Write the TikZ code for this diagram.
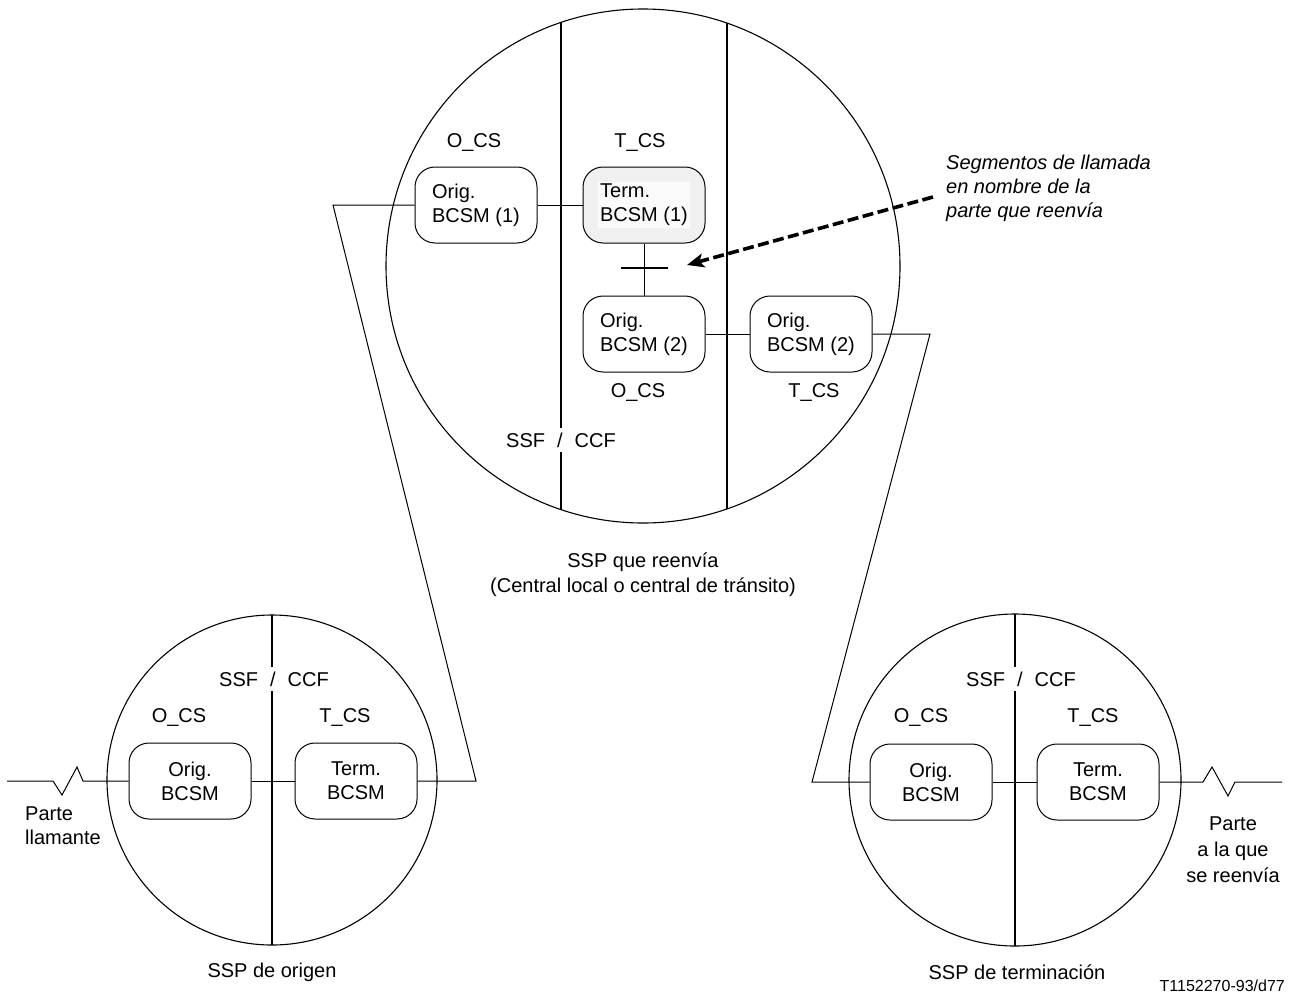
\documentclass[tikz,border=0pt]{standalone}
\usepackage{fontspec}
\setmainfont{Liberation Sans}
\usetikzlibrary{arrows.meta}
\begin{document}
\begin{tikzpicture}[x=1pt,y=-1pt,
  every node/.style={font=\fontsize{20}{24}\selectfont},
  bcsm/.style={draw, line width=1pt, rounded corners=20pt, minimum width=122pt, minimum height=76pt, inner sep=0pt, align=center},
  circ/.style={line width=1.1pt},
  divline/.style={line width=2pt},
  wire/.style={line width=1pt},
  lbl/.style={inner sep=1pt},
  gaplbl/.style={fill=white, inner sep=5pt},
  note/.style={font=\fontsize{20}{24}\selectfont\itshape, align=left, inner sep=0pt}
]
\useasboundingbox (0,0) rectangle (1292,1001);

% circles
\draw[circ] (643,266) circle (257pt);
\draw[circ] (272,780) circle (165pt);
\draw[circ] (1015,780) circle (166pt);

% dividers
\coordinate (d1a) at (561,22.4);  \coordinate (d1b) at (561,509.6);
\coordinate (d2a) at (727,23.1);  \coordinate (d2b) at (727,508.9);
\coordinate (d3a) at (272,615);   \coordinate (d3b) at (272,945);
\coordinate (d4a) at (1015,614);  \coordinate (d4b) at (1015,946);
\draw[divline] (d1a) -- (d1b);
\draw[divline] (d2a) -- (d2b);
\draw[divline] (d3a) -- (d3b);
\draw[divline] (d4a) -- (d4b);

% boxes top
\node[bcsm, align=left] (o1) at (476,205) {Orig.\\BCSM (1)};
\node[bcsm, fill=gray!12] (t1) at (644,205) {};
\node[fill=gray!4, inner sep=2pt, align=left] (t1txt) at (t1) {Term.\\BCSM (1)};
\node[bcsm, align=left] (o2) at (644,334) {Orig.\\BCSM (2)};
\node[bcsm, align=left] (o2r) at (811,334) {Orig.\\BCSM (2)};

% boxes bottom
\node[bcsm] (bo) at (190,781) {Orig.\\BCSM};
\node[bcsm] (bt) at (356,781) {Term.\\BCSM};
\node[bcsm] (ro) at (931,782) {Orig.\\BCSM};
\node[bcsm] (rt) at (1098,782) {Term.\\BCSM};

% top connectors
\draw[wire] (o1) -- (t1);
\draw[wire] (t1) -- (o2);
\coordinate (xl) at (621,268); \coordinate (xr) at (668,268);
\draw[line width=1.3pt] (xl) -- (xr);
\draw[wire] (o2) -- (o2r);

% funnels
\coordinate (fl1) at (333,205); \coordinate (fl2) at (476,781);
\draw[wire] (o1.west) -- (fl1) -- (fl2) -- (bt.east);
\coordinate (fr1) at (930,334); \coordinate (fr2) at (812,782);
\draw[wire] (o2r.east) -- (fr1) -- (fr2) -- (ro.west);

% bottom connectors
\draw[wire] (bo) -- (bt);
\draw[wire] (ro) -- (rt);
\coordinate (lz0) at (7,781); \coordinate (lz1) at (53,781); \coordinate (lz2) at (62,795);
\coordinate (lz3) at (77,767); \coordinate (lz4) at (83,781);
\draw[wire] (lz0) -- (lz1) -- (lz2) -- (lz3) -- (lz4) -- (bo.west);
\coordinate (rz1) at (1203,782); \coordinate (rz2) at (1212,767); \coordinate (rz3) at (1228,796);
\coordinate (rz4) at (1235,782); \coordinate (rz5) at (1282,782);
\draw[wire] (rt.east) -- (rz1) -- (rz2) -- (rz3) -- (rz4) -- (rz5);

% dashed arrow and note
\node[note, anchor=west] (seg) at (946,188) {Segmentos de llamada\\en nombre de la\\parte que reenvía};
\coordinate (as) at (933,197); \coordinate (ae) at (687,265);
\draw[line width=3.6pt, dash pattern=on 11pt off 4.5pt, -{Stealth[length=17pt,width=14pt,inset=4pt]}] (as) -- (ae);

% labels top circle
\node[lbl] (lo1) at (474,143) {O\_CS};
\node[lbl] (lt1) at (640,143) {T\_CS};
\node[lbl] (lo2) at (638,392) {O\_CS};
\node[lbl] (lt2) at (814,392) {T\_CS};
\node[gaplbl] (ssf1) at (561,440) {SSF\hspace{0.6em}/\hspace{0.6em}CCF};
\node[lbl, align=center, font=\fontsize{20}{25}\selectfont] (ssp1) at (643,575) {SSP que reenvía\\(Central local o central de tránsito)};

% labels bottom left
\node[gaplbl] (ssf2) at (274,679) {SSF\hspace{0.6em}/\hspace{0.6em}CCF};
\node[lbl] (lo3) at (179,717) {O\_CS};
\node[lbl] (lt3) at (345,717) {T\_CS};
\node[lbl] (ssp2) at (272,972) {SSP de origen};
\node[lbl, align=left, anchor=west] (pl) at (24,826) {Parte\\llamante};

% labels bottom right
\node[gaplbl] (ssf3) at (1021,679) {SSF\hspace{0.6em}/\hspace{0.6em}CCF};
\node[lbl] (lo4) at (921,717) {O\_CS};
\node[lbl] (lt4) at (1093,717) {T\_CS};
\node[lbl] (ssp3) at (1017,972) {SSP de terminación};
\node[lbl, align=center, font=\fontsize{20}{26}\selectfont] (pr) at (1233,850) {Parte\\a la que\\se reenvía};

\node[lbl, anchor=east, font=\fontsize{16}{19}\selectfont] (ref) at (1286,986) {T1152270-93/d77};
\end{tikzpicture}
\end{document}
